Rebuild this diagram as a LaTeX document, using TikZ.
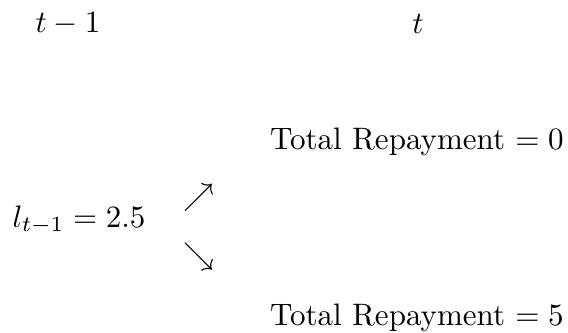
\documentclass[tikz,border=0pt]{standalone}
\usetikzlibrary{positioning}
\begin{document}
\begin{tikzpicture}[x=0.3222pt,y=-0.3222pt,every node/.style={inner sep=0pt}]
            \useasboundingbox (0,0) rectangle (568,333);
            % time labels
            \node (prev) at (68,24) {$t-1$};
            \node (now) at (418,24) {$t$};
            % loan and branches
            \node (loan) at (79,220) {$l_{t-1} = 2.5$};
            \node (up) at (199,198) {$\nearrow$};
            \node (down) at (199,257) {$\searrow$};
            \node (zero) at (417,142) {Total Repayment $= 0$};
            \node (five) at (417,318) {Total Repayment $= 5$};
        \end{tikzpicture}
\end{document}
